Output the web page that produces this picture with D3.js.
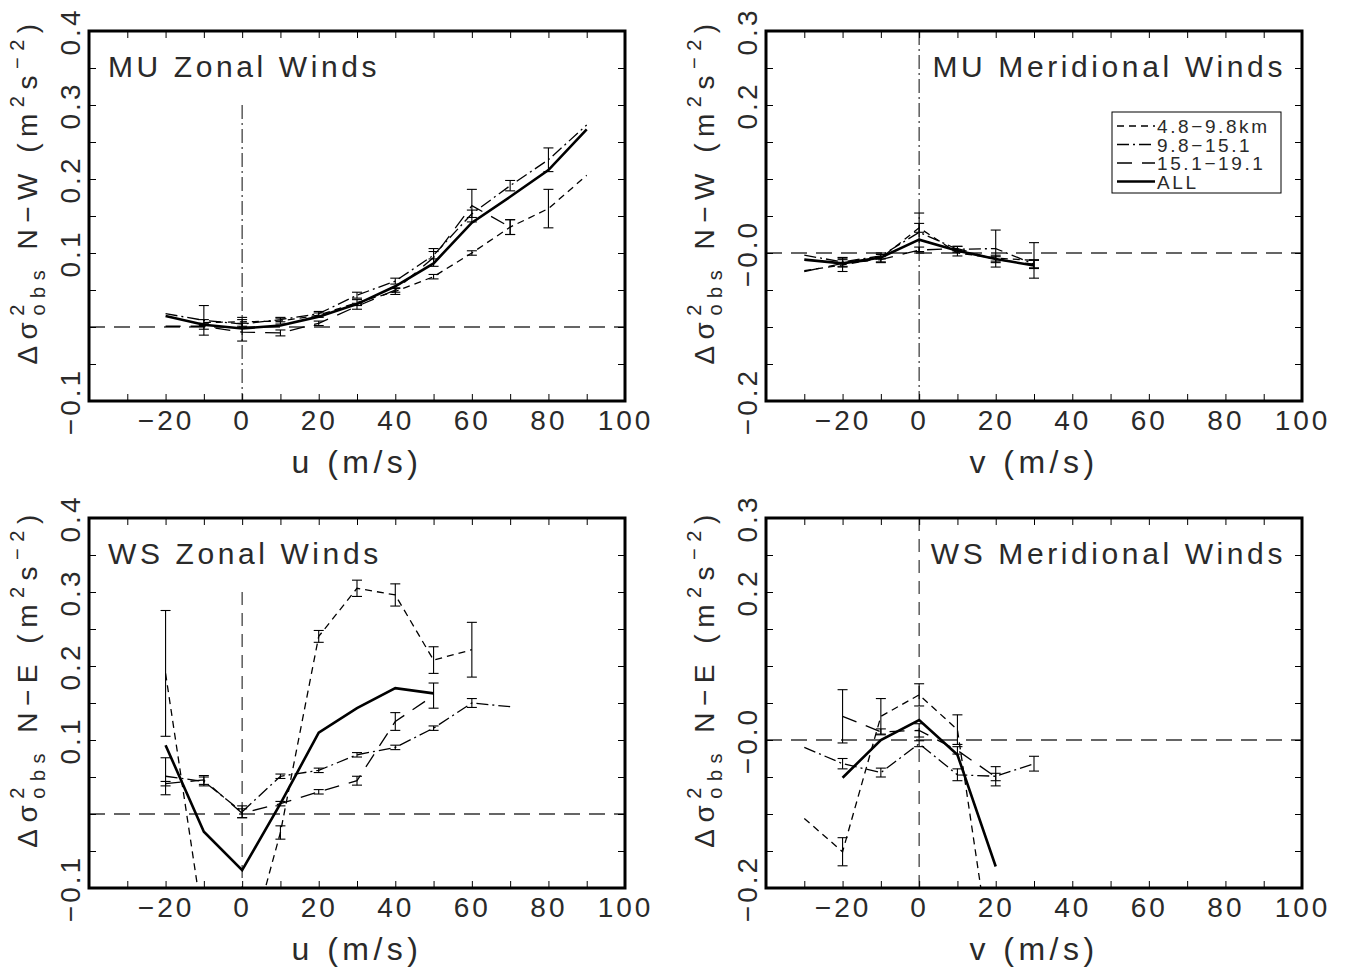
<!DOCTYPE html>
<html>
<head>
<meta charset="utf-8">
<script src="https://cdn.jsdelivr.net/npm/d3@7"></script>
<style>
body { margin:0; background:#fff; }
svg text { font-family: "Liberation Sans", Arial, sans-serif; fill:#2a2a2a; }
</style>
</head>
<body>
<svg id="chart" width="1348" height="968"></svg>
<script>

// x tick labels (same for all four panels)
var xLabelVals = [-20, 0, 20, 40, 60, 80, 100];
var xLabels = ['\u221220', '0', '20', '40', '60', '80', '100'];

// y tick labels
var zonalYLabelVals = [0.4, 0.3, 0.2, 0.1, -0.1];
var zonalYLabels = ['0.4', '0.3', '0.2', '0.1', '\u22120.1'];
var meridYLabelVals = [0.3, 0.2, 0, -0.2];
var meridYLabels = ['0.3', '0.2', '\u22120.0', '\u22120.2'];

// legend
var legendLabels = ['4.8\u22129.8km', '9.8\u221215.1', '15.1\u221219.1', 'ALL'];

// MU zonal winds (N-W)
var muZonalU = [-20, -10, 0, 10, 20, 30, 40, 50, 60, 70, 80, 90];
var muZonal_48_98 = [null, 0.006, 0.007, 0.008, 0.016, 0.033, 0.048, 0.068, 0.100, 0.135, 0.160, 0.205];
var muZonal_98_151 = [0.018, 0.009, 0.004, 0.010, 0.018, 0.043, 0.062, 0.097, 0.153, 0.191, 0.226, 0.273];
var muZonal_151_191 = [0.001, 0.001, -0.007, -0.008, 0.005, 0.028, 0.050, 0.094, 0.164, 0.135, null, null];
var muZonalAll = [0.015, 0.003, -0.002, 0.002, 0.014, 0.031, 0.055, 0.086, 0.141, 0.176, 0.212, 0.267];
var muZonalErr_48_98 = [0, 0.004, 0.006, 0.004, 0.003, 0.004, 0.004, 0.003, 0.003, 0.010, 0.026, 0];
var muZonalErr_98_151 = [0, 0.020, 0.006, 0.003, 0.003, 0.004, 0.004, 0.005, 0.005, 0.007, 0.016, 0];
var muZonalErr_151_191 = [0, 0.004, 0.012, 0.004, 0.003, 0.004, 0.003, 0.012, 0.022, 0.010, 0, 0];

// MU meridional winds (N-W)
var muMeridV = [-30, -20, -10, 0, 10, 20, 30];
var muMerid_48_98 = [-0.024, -0.016, -0.007, 0.034, 0.000, -0.007, -0.010];
var muMerid_98_151 = [-0.003, -0.012, -0.004, 0.028, 0.005, 0.006, -0.015];
var muMerid_151_191 = [-0.025, -0.014, -0.009, 0.004, 0.006, -0.009, -0.015];
var muMeridAll = [-0.009, -0.014, -0.006, 0.018, 0.003, -0.008, -0.017];
var muMeridErr_48_98 = [0, 0.009, 0.005, 0.006, 0.004, 0.004, 0.024];
var muMeridErr_98_151 = [0, 0.006, 0.004, 0.026, 0.004, 0.025, 0.006];
var muMeridErr_151_191 = [0, 0.005, 0.004, 0.004, 0.003, 0.004, 0.005];

// WS zonal winds (N-E)
var wsZonalU = [-20, -10, 0, 10, 20, 30, 40, 50, 60, 70];
var wsZonal_48_98 = [0.190, -0.155, -0.215, -0.025, 0.240, 0.305, 0.296, 0.208, 0.222, null];
var wsZonal_98_151 = [0.051, 0.044, 0.003, 0.051, 0.059, 0.080, 0.090, 0.116, 0.150, 0.145];
var wsZonal_151_191 = [0.041, 0.046, 0.001, 0.014, 0.030, 0.045, 0.125, 0.160, null, null];
var wsZonalAll = [0.093, -0.024, -0.076, 0.014, 0.110, 0.143, 0.170, 0.163, null, null];
var wsZonalErr_48_98 = [0.085, 0, 0, 0.009, 0.008, 0.011, 0.015, 0.018, 0.037, 0];
var wsZonalErr_98_151 = [0.025, 0.006, 0.008, 0.003, 0.003, 0.003, 0.003, 0.003, 0.006, 0];
var wsZonalErr_151_191 = [0.003, 0.006, 0.006, 0.003, 0.003, 0.006, 0.012, 0.017, 0, 0];

// WS meridional winds (N-E)
var wsMeridV = [-30, -20, -10, 0, 10, 20, 30];
var wsMerid_48_98 = [-0.106, -0.151, 0.032, 0.061, 0.014, -0.336, null];
var wsMerid_98_151 = [-0.010, -0.032, -0.044, -0.005, -0.047, -0.049, -0.032];
var wsMerid_151_191 = [null, 0.032, 0.011, 0.013, -0.014, -0.050, null];
var wsMeridAll = [null, -0.051, 0.000, 0.027, -0.020, -0.171, null];
var wsMeridErr_48_98 = [0, 0.019, 0.024, 0.015, 0.020, 0, 0];
var wsMeridErr_98_151 = [0, 0.007, 0.006, 0.004, 0.008, 0.013, 0.010];
var wsMeridErr_151_191 = [0, 0.036, 0.004, 0.009, 0.005, 0.005, 0];

// line styles, in legend order
var styles = [
	{dash: '7,5', width: 1.3},
	{dash: '12,4,2,4', width: 1.3},
	{dash: '15,10', width: 1.3},
	{dash: null, width: 2.6}
];

var W = 536, H = 370;

var panels = [
	{id: 'p1', left: 89, top: 31, yDom: [-0.1, 0.4], x: muZonalU,
		series: [muZonal_48_98, muZonal_98_151, muZonal_151_191, muZonalAll],
		errs: [muZonalErr_48_98, muZonalErr_98_151, muZonalErr_151_191, null],
		title: 'MU Zonal Winds', titleRight: false, xTitle: 'u (m/s)', pair: 'N\u2212W',
		yVals: zonalYLabelVals, yLabs: zonalYLabels, vDash: '14,4,2,4', legend: false},
	{id: 'p2', left: 766, top: 31, yDom: [-0.2, 0.3], x: muMeridV,
		series: [muMerid_48_98, muMerid_98_151, muMerid_151_191, muMeridAll],
		errs: [muMeridErr_48_98, muMeridErr_98_151, muMeridErr_151_191, null],
		title: 'MU Meridional Winds', titleRight: true, xTitle: 'v (m/s)', pair: 'N\u2212W',
		yVals: meridYLabelVals, yLabs: meridYLabels, vDash: '14,4,2,4', legend: true},
	{id: 'p3', left: 89, top: 518, yDom: [-0.1, 0.4], x: wsZonalU,
		series: [wsZonal_48_98, wsZonal_98_151, wsZonal_151_191, wsZonalAll],
		errs: [wsZonalErr_48_98, wsZonalErr_98_151, wsZonalErr_151_191, null],
		title: 'WS Zonal Winds', titleRight: false, xTitle: 'u (m/s)', pair: 'N\u2212E',
		yVals: zonalYLabelVals, yLabs: zonalYLabels, vDash: '13,8', legend: false},
	{id: 'p4', left: 766, top: 518, yDom: [-0.2, 0.3], x: wsMeridV,
		series: [wsMerid_48_98, wsMerid_98_151, wsMerid_151_191, wsMeridAll],
		errs: [wsMeridErr_48_98, wsMeridErr_98_151, wsMeridErr_151_191, null],
		title: 'WS Meridional Winds', titleRight: true, xTitle: 'v (m/s)', pair: 'N\u2212E',
		yVals: meridYLabelVals, yLabs: meridYLabels, vDash: '13,8', legend: false}
];

var svg = d3.select('#chart');

function drawPanel(p){
	var g = svg.append('g');
	var x = d3.scaleLinear().domain([-40, 100]).range([p.left, p.left + W]);
	var y = d3.scaleLinear().domain(p.yDom).range([p.top + H, p.top]);

	svg.append('clipPath').attr('id', 'clip-' + p.id)
		.append('rect')
		.attr('x', p.left).attr('y', p.top)
		.attr('width', W).attr('height', H);
	var plot = g.append('g').attr('clip-path', 'url(#clip-' + p.id + ')');

	// zero reference lines
	plot.append('line')
		.attr('x1', p.left).attr('x2', p.left + W)
		.attr('y1', y(0)).attr('y2', y(0))
		.attr('stroke', '#333').attr('stroke-width', 1.3)
		.attr('stroke-dasharray', '16,9');
	plot.append('line')
		.attr('x1', x(0)).attr('x2', x(0))
		.attr('y1', y(0.3)).attr('y2', y(p.yDom[0]))
		.attr('stroke', '#333').attr('stroke-width', 1.2)
		.attr('stroke-dasharray', p.vDash);

	// series lines
	var line = d3.line()
		.defined(function(d){ return d.v !== null; })
		.x(function(d){ return x(d.x); })
		.y(function(d){ return y(d.v); });
	p.series.forEach(function(vals, i){
		var pts = p.x.map(function(xv, j){ return {x: xv, v: vals[j]}; });
		plot.append('path')
			.datum(pts)
			.attr('d', line)
			.attr('fill', 'none')
			.attr('stroke', '#000')
			.attr('stroke-width', styles[i].width)
			.attr('stroke-dasharray', styles[i].dash);
		// error bars
		var errs = p.errs[i];
		if (!errs) return;
		var eb = pts.map(function(d, j){ return {x: d.x, v: d.v, e: errs[j]}; })
			.filter(function(d){ return d.v !== null && d.e > 0; });
		var bars = plot.selectAll(null).data(eb).enter().append('g')
			.attr('stroke', '#000').attr('stroke-width', 1.1);
		bars.append('line')
			.attr('x1', function(d){ return x(d.x); })
			.attr('x2', function(d){ return x(d.x); })
			.attr('y1', function(d){ return y(d.v - d.e); })
			.attr('y2', function(d){ return y(d.v + d.e); });
		[-1, 1].forEach(function(s){
			bars.append('line')
				.attr('x1', function(d){ return x(d.x) - 5; })
				.attr('x2', function(d){ return x(d.x) + 5; })
				.attr('y1', function(d){ return y(d.v + s * d.e); })
				.attr('y2', function(d){ return y(d.v + s * d.e); });
		});
	});

	// inward ticks on all four sides
	var xt = d3.range(-30, 100, 10);
	var yt = d3.range(p.yDom[0] + 0.05, p.yDom[1] - 0.01, 0.05);
	function clean(a){ a.select('.domain').remove(); a.selectAll('line').attr('stroke', '#000'); }
	g.append('g').attr('transform', 'translate(0,' + (p.top + H) + ')')
		.call(d3.axisBottom(x).tickValues(xt).tickSize(-7).tickFormat(''))
		.call(clean);
	g.append('g').attr('transform', 'translate(0,' + p.top + ')')
		.call(d3.axisTop(x).tickValues(xt).tickSize(-7).tickFormat(''))
		.call(clean);
	g.append('g').attr('transform', 'translate(' + p.left + ',0)')
		.call(d3.axisLeft(y).tickValues(yt).tickSize(-7).tickFormat(''))
		.call(clean);
	g.append('g').attr('transform', 'translate(' + (p.left + W) + ',0)')
		.call(d3.axisRight(y).tickValues(yt).tickSize(-7).tickFormat(''))
		.call(clean);

	// frame
	g.append('rect')
		.attr('x', p.left).attr('y', p.top)
		.attr('width', W).attr('height', H)
		.attr('fill', 'none').attr('stroke', '#000').attr('stroke-width', 3);

	// x tick labels
	var xa = g.append('g').attr('transform', 'translate(0,' + (p.top + H) + ')')
		.call(d3.axisBottom(x).tickValues(xLabelVals).tickSize(0)
			.tickFormat(function(d, i){ return xLabels[i]; }));
	xa.select('.domain').remove();
	xa.selectAll('text')
		.attr('y', 29).attr('dy', 0)
		.attr('font-size', 28).attr('letter-spacing', 3)
		.style('font-family', '"Liberation Sans", Arial, sans-serif')
		.attr('fill', '#2a2a2a');

	// y tick labels, rotated
	var ya = g.append('g').attr('transform', 'translate(' + p.left + ',0)')
		.call(d3.axisLeft(y).tickValues(p.yVals).tickSize(0)
			.tickFormat(function(d, i){ return p.yLabs[i]; }));
	ya.select('.domain').remove();
	ya.selectAll('text')
		.attr('x', 0).attr('y', -9).attr('dy', 0)
		.attr('text-anchor', 'middle')
		.attr('transform', 'rotate(-90)')
		.attr('font-size', 28).attr('letter-spacing', 3)
		.style('font-family', '"Liberation Sans", Arial, sans-serif')
		.attr('fill', '#2a2a2a');

	// x axis title
	g.append('text')
		.attr('x', p.left + W / 2).attr('y', p.top + H + 72)
		.attr('text-anchor', 'middle')
		.attr('font-size', 32).attr('letter-spacing', 4.5)
		.text(p.xTitle);

	// y axis title
	var cy = p.top + H / 2 - 25;
	var yt2 = g.append('text')
		.attr('transform', 'translate(' + (p.left - 52) + ',' + cy + ') rotate(-90)')
		.attr('text-anchor', 'middle')
		.attr('font-size', 28).attr('letter-spacing', 6.5);
	yt2.append('tspan').text('\u0394\u03c3');
	yt2.append('tspan').attr('font-size', 20).attr('dy', -13).text('2');
	yt2.append('tspan').attr('font-size', 20).attr('dx', -17.6).attr('dy', 21).text('obs');
	yt2.append('tspan').attr('dy', -8).text(' ' + p.pair + ' (m');
	yt2.append('tspan').attr('font-size', 20).attr('dy', -13).text('2');
	yt2.append('tspan').attr('dy', 13).text('s');
	yt2.append('tspan').attr('font-size', 20).attr('dy', -13).text('\u22122');
	yt2.append('tspan').attr('dy', 13).text(')');

	// panel title
	g.append('text')
		.attr('x', p.titleRight ? p.left + W - 16 : p.left + 19)
		.attr('y', p.top + 46)
		.attr('text-anchor', p.titleRight ? 'end' : 'start')
		.attr('font-size', 30).attr('letter-spacing', 3.6)
		.text(p.title);

	if (p.legend) drawLegend(g, p);
}

function drawLegend(g, p){
	var lx = 1112, ly = 112;
	g.append('rect')
		.attr('x', lx).attr('y', ly).attr('width', 169).attr('height', 81)
		.attr('fill', '#fff').attr('stroke', '#000').attr('stroke-width', 1);
	legendLabels.forEach(function(lab, i){
		var yy = ly + 14 + i * 18.5;
		g.append('line')
			.attr('x1', lx + 5).attr('x2', lx + 43)
			.attr('y1', yy).attr('y2', yy)
			.attr('stroke', '#000')
			.attr('stroke-width', styles[i].width)
			.attr('stroke-dasharray', styles[i].dash);
		g.append('text')
			.attr('x', lx + 45).attr('y', yy + 7)
			.attr('font-size', 19).attr('letter-spacing', 2.6)
			.text(lab);
	});
}

panels.forEach(drawPanel);

</script>
</body>
</html>
